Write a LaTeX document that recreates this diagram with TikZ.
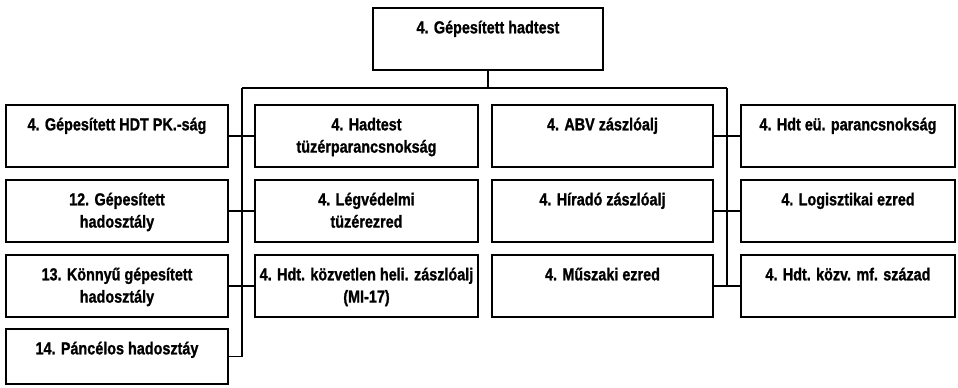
\documentclass[tikz,border=0pt]{standalone}
\usepackage{graphicx}
\usepackage{fontspec}
\setmainfont{Liberation Sans}[BoldFeatures={FakeBold=1.2}]
\begin{document}
\begin{tikzpicture}[x=0.75pt,y=-0.75pt,
  box/.style={draw=black,line width=1.4pt,rectangle,inner sep=0pt,fill=white},
  txt/.style={anchor=north,inner sep=0pt,align=center,font=\fontsize{13}{16.7}\selectfont\bfseries},
  conn/.style={draw=black,line width=1.4pt}]
\useasboundingbox (0,0) rectangle (958,387);
\newcommand{\nl}[1]{\scalebox{0.83}[1]{#1}}
\newcommand{\bx}[6]{%
  \node[box,minimum width={(#4-#2)*0.75pt},minimum height={(#5-#3)*0.75pt}] (#1) at ({(#2+#4)/2},{(#3+#5)/2}) {};
  \node[txt] (#1t) at ([yshift=-5.5pt]#1.north) {\rule{0pt}{14pt}#6};}
% boxes
\bx{top}{373}{8}{603}{70}{\nl{4. Gépesített hadtest}}
\bx{a1}{6}{105}{228}{167}{\nl{4. Gépesített HDT PK.-ság}}
\bx{a2}{6}{180}{228}{242}{\nl{12. Gépesített}\\\nl{hadosztály}}
\bx{a3}{6}{255}{228}{317}{\nl{13. Könnyű gépesített}\\\nl{hadosztály}}
\bx{a4}{6}{329}{228}{384}{\nl{14. Páncélos hadosztáy}}
\bx{b1}{255}{105}{478}{167}{\nl{4. Hadtest}\\\nl{tüzérparancsnokság}}
\bx{b2}{255}{180}{478}{242}{\nl{4. Légvédelmi}\\\nl{tüzérezred}}
\bx{b3}{255}{255}{478}{317}{\nl{4. Hdt. közvetlen heli. zászlóalj}\\\nl{(MI-17)}}
\bx{c1}{492}{105}{713}{167}{\nl{4. ABV zászlóalj}}
\bx{c2}{492}{180}{713}{242}{\nl{4. Híradó zászlóalj}}
\bx{c3}{492}{255}{713}{317}{\nl{4. Műszaki ezred}}
\bx{d1}{741}{105}{955}{167}{\nl{4. Hdt eü. parancsnokság}}
\bx{d2}{741}{180}{955}{242}{\nl{4. Logisztikai ezred}}
\bx{d3}{741}{255}{955}{317}{\nl{4. Hdt. közv. mf. század}}
% connectors
\coordinate (L0) at (242,88);
\coordinate (R0) at (727,88);
\coordinate (hub) at (top.south |- L0);
\coordinate (Lend) at (L0 |- a4.east);
\coordinate (Rend) at (R0 |- c3.east);
\draw[conn] (top.south) -- (hub);
\draw[conn] (L0) -- (R0);
\draw[conn] (L0) -- (Lend);
\draw[conn] (R0) -- (Rend);
\draw[conn] (a1.east) -- (b1.west);
\draw[conn] (a2.east) -- (b2.west);
\draw[conn] (a3.east) -- (b3.west);
\draw[conn] (a4.east) -- (Lend);
\draw[conn] (c1.east) -- (d1.west);
\draw[conn] (c2.east) -- (d2.west);
\draw[conn] (c3.east) -- (d3.west);
\end{tikzpicture}
\end{document}
